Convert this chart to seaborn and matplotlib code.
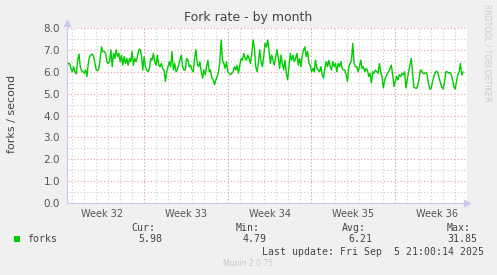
import numpy as np
import pandas as pd
import matplotlib
matplotlib.use("Agg")
import matplotlib.pyplot as plt
import matplotlib.dates as mdates
from matplotlib.patches import Rectangle
import seaborn as sns

# ---- data (forks / second), one sample every 160 minutes ----
seg_a = [6.23,6.38,6.38,6.15,6.0,6.23,6.0,5.9,6.53,6.81,6.23,6.05,6.0,5.93,6.08,5.78,6.38,6.69,6.76,6.81,
         6.69,6.38,6.08,6.05,6.15,6.61,7.14,6.92,6.92,6.84,6.46,6.38,6.46,7.0,6.23,6.84,6.61,7.0,6.69,6.84,
         6.46,6.76,6.30,6.69,6.38,6.61,6.30,6.61,6.46,6.92,6.30,6.61,6.46,6.69,7.0,7.03,6.76,6.08,6.69,6.23,
         6.08,6.0,6.15,6.61,6.53,6.84,6.46,6.30,6.76,6.30,6.23,6.38,6.15,6.08,5.56,6.0,6.23,6.46,6.23,6.92,
         6.08,6.38,6.0,6.08,6.30,6.53,6.76,6.23,6.08,6.08,6.61,6.53,6.23,6.30,6.08,6.0,6.61,7.0,6.38,6.23,
         6.46,6.0,5.71,6.08,5.86,6.23,6.53,6.0,6.08,5.71,5.63,5.41,5.63,5.78,6.0,6.46,7.45,6.53,6.38,6.15,
         6.46,6.0,5.93,5.86,5.93,6.0,6.23,6.08,6.30,5.93,6.30,6.61,6.53,6.84,6.61,6.53]
seg_b = [6.76,6.61,6.38,6.84,7.45,7.07,6.23,6.0,6.38,7.0,6.46,6.23,6.69,7.3,7.14,7.45,7.0,6.38,6.76,6.53,
         6.30,6.69,7.0,6.61,6.15,6.76,6.38,6.08,6.53,5.93,5.63,6.23,6.84,6.53,6.76,6.46,6.61,6.84,6.30,6.61,
         6.23,6.76,7.0,7.14,6.69,6.92,6.38,6.30,6.0,6.15,6.0,6.53,6.15,6.08,6.0,6.23,5.86,5.71,6.15,6.46,
         6.23,6.53,6.23,6.08,6.46,6.23,6.38,6.0,6.38,6.23,6.46,6.15,6.08,6.08,5.86,5.56,6.23,6.38,6.53,7.3,
         6.38,6.23,6.23,6.0,6.23,6.53,6.15,6.23,6.0,6.15,6.08,5.78,5.93,5.48,6.0,5.93,6.08,6.0,5.93,6.38,
         6.0,5.78,5.26,5.63,5.78,5.93,6.0,6.15,6.30,5.86,5.33,5.56,5.78,5.63,5.86,5.78,5.93,5.86,6.0,5.26,
         5.63,6.0,6.30,6.61]
gap = [np.nan]
seg_c = [5.29,5.26,5.24,5.4,5.72,6.08,6.02,5.92,5.92,5.97,5.86,5.44,5.2,5.25,5.54,5.78,5.96,6.03,5.94,5.72,
         5.48,5.3,5.21,5.5,6.0,6.0,5.94,5.97,5.88,5.65,5.33,5.21,5.54,5.84,6.0,6.38,5.85,6.0]
forks = seg_a + seg_b + gap + seg_c

start_time = "2025-08-04 13:30"
step = "160min"
week_labels = ["Week 32", "Week 33", "Week 34", "Week 35", "Week 36"]
week_starts = ["2025-08-04", "2025-08-11", "2025-08-18", "2025-08-25", "2025-09-01"]
y_ticks = [0, 1, 2, 3, 4, 5, 6, 7, 8]
legend_name = "forks"
stats_labels = ["Cur:", "Min:", "Avg:", "Max:"]
stats_values = ["5.98", "4.79", "6.21", "31.85"]

times = pd.date_range(start_time, periods=len(forks), freq=step)
df = pd.DataFrame({"time": times, "forks": forks})

# ---- figure ----
sns.set_style("white")
plt.rcParams["font.family"] = ["DejaVu Sans"]
W, H = 497, 275
fig = plt.figure(figsize=(W / 100, H / 100), dpi=100, facecolor="#f0f0f0")

def fx(x):
    return x / W

def fy(y):
    return 1 - y / H

L, R, T, B = 67, 467, 28, 203
ax = fig.add_axes([fx(L), fy(B), (R - L) / W, (B - T) / H])
ax.set_facecolor("white")

sns.lineplot(data=df, x="time", y="forks", ax=ax, color="#00cc00", linewidth=1.0)

t0 = pd.Timestamp(start_time)
ax.set_xlim(t0, t0 + pd.Timedelta(hours=800))
ax.set_ylim(0, 8)

# y grid
ax.set_yticks(y_ticks)
ax.set_yticklabels([f"{v:.1f}" for v in y_ticks])
ax.set_yticks(np.arange(0.5, 8, 1.0), minor=True)
ax.grid(False)
ax.yaxis.grid(True, which="major", color="#e8a0a0", linestyle=(0, (1, 2)), linewidth=0.8)
ax.yaxis.grid(True, which="minor", color="#cccccc", linestyle=(0, (1, 2)), linewidth=0.8)

# x grid: days minor, weeks major lines
days = pd.date_range("2025-08-05", "2025-09-07", freq="D")
ax.set_xticks(days, minor=True)
ax.xaxis.grid(True, which="minor", color="#cccccc", linestyle=(0, (1, 2)), linewidth=0.8)
for ws in week_starts[1:]:
    ax.axvline(pd.Timestamp(ws), color="#e8a0a0", linestyle=(0, (1, 2)), linewidth=0.8, zorder=1.5)
mid = [pd.Timestamp(w) + pd.Timedelta(hours=84) for w in week_starts]
ax.set_xticks(mid)
ax.set_xticklabels(week_labels)
ax.tick_params(axis="x", which="major", length=0, pad=4, labelsize=7, labelcolor="#555555")
ax.tick_params(axis="x", which="minor", length=2, color="#cccccc")
ax.tick_params(axis="y", which="major", length=2, color="#cccccc", pad=3, labelsize=7.5, labelcolor="#555555")
ax.tick_params(axis="y", which="minor", length=0)
ax.set_xlabel("")
ax.set_ylabel("")

for s in ["top", "right"]:
    ax.spines[s].set_visible(False)
for s in ["left", "bottom"]:
    ax.spines[s].set_color("#c8c8f0")
    ax.spines[s].set_linewidth(0.8)
ax.plot(1.0, 0, ">", color="#c8c8f0", markersize=4, transform=ax.transAxes, clip_on=False)
ax.plot(0, 1.03, "^", color="#c8c8f0", markersize=4, transform=ax.transAxes, clip_on=False)

# texts
fig.text(fx(248), fy(18), "Fork rate - by month", ha="center", va="center", fontsize=9, color="#444444")
fig.text(fx(12), fy(114), "forks / second", rotation=90, ha="center", va="center", fontsize=8, color="#444444")
fig.text(fx(487), fy(53), "RRDTOOL / TOBI OETIKER", rotation=270, ha="center", va="center",
         fontsize=5.5, color="#cccccc")

mono = dict(family="DejaVu Sans Mono", fontsize=7.1, color="#444444", va="center", ha="left")
fig.patches.append(Rectangle((fx(14), fy(242)), 6 / W, 6 / H, transform=fig.transFigure,
                             facecolor="#00cc00", edgecolor="none"))
fig.text(fx(27), fy(239), legend_name, **mono)
lab_x = [131, 236, 342, 447]
val_x = [138, 243, 348, 447]
for lx, vx, lab, val in zip(lab_x, val_x, stats_labels, stats_values):
    fig.text(fx(lx), fy(228), lab, **mono)
    fig.text(fx(vx), fy(239), val, **mono)
fig.text(fx(262), fy(252), "Last update: Fri Sep  5 21:00:14 2025", **mono)
fig.text(fx(248), fy(264), "Munin 2.0.75", ha="center", va="center", fontsize=5.5, color="#c8c8c8")

fig.savefig("out.png", dpi=100, facecolor=fig.get_facecolor())
